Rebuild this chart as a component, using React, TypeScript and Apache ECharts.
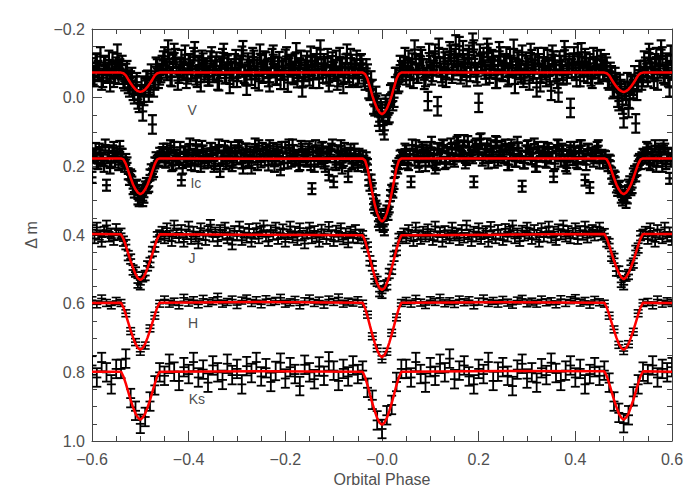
import React, { useEffect, useRef } from "react";
import * as echarts from "echarts";

// Phase sampling of the observations
const PHASE_START = -0.6;
const PHASE_START_B = -0.5975;
const STEP_FINE = 0.005;
const STEP_COARSE = 0.01;

// Observed magnitudes in milli-mag (V, Ic, J on 0.005 grid; H, Ks on 0.01 grid)
const V_MAG = [
  -88,-60,-102,-75,-50,-95,-70,-110,-82,-58,-90,-67,
  -80,-55,-72,-40,-50,-20,-35,5,-10,40,-30,-52,-35,78,-50,-85,-65,
  -95,-120,-78,-105,-60,-130,-88,-70,-112,-85,
  -55,-98,-75,-118,-65,-90,-45,-102,-80,-62,
  -108,-72,-92,-50,-84,-115,-68,-96,-40,-77,
  -100,-58,-88,-122,-70,-35,-93,-64,-110,-82,
  -48,-97,-73,-105,-60,-86,-125,-66,-90,-52,
  -79,-113,-44,-95,-70,-102,-57,-88,-30,-75,
  -108,-62,-92,-80,-118,-55,-85,-100,-68,-45,
  -94,-76,-110,-60,-87,-40,-99,-72,-115,-64,
  -83,-58,-96,
  -85,-50,-70,-20,-25,25,15,70,40,95,30,45,-15,0,-60,-45,-80,
  -92,-65,-110,-78,-55,-100,-70,-120,-85,-60,
  10,-95,-75,-128,25,-88,-62,-105,-80,-135,
  -70,-115,-92,-150,-78,-100,-60,-125,-88,-140,
  -72,15,-98,-118,-65,-130,-85,-108,-55,-95,
  -120,-75,-100,-60,-115,-88,-40,-105,-80,-125,
  -68,-95,-50,-112,-82,-30,-100,-70,-118,-60,
  -90,-20,-108,-75,-15,-95,-65,-120,-85,30,
  -102,-78,-130,-60,-92,-115,-70,-100,-55,-85,
  -110,-68,-95,
  -75,-90,-50,-65,-30,-45,10,-25,60,-5,30,-40,-25,75,-45,-80,-60,
  -90,-60,-115,-75,-100,-50,-85,-120,-65,-95,-30,-80,
];
// Second V run, sampled half a step later
const V_MAG_B = [
  -65,-100,-80,-120,-58,-92,-75,-45,-105,-70,-128,-85,
  -95,-48,-80,-30,-60,-10,-45,15,-35,-5,-50,-15,-70,-30,-90,-55,
  -72,-108,-85,-140,-62,-98,-115,-50,-90,-78,
  -125,-68,-100,-82,-135,-58,-95,-110,-73,-88,
  -62,-120,-80,-105,-48,-93,-130,-70,-100,-85,
  -58,-112,-75,-95,-138,-65,-102,-80,-118,-55,
  -90,-128,-70,-108,-84,-45,-115,-92,-64,-106,
  -80,-52,-120,-88,-98,-66,-132,-75,-110,-60,
  -95,-78,-122,-55,-100,-85,-140,-70,-92,-115,
  -62,-105,-82,-50,-118,-90,-72,-128,-58,-98,
  -85,-110,-68,-100,
  -60,-85,-25,-50,20,-5,55,30,80,20,50,-10,10,-60,-40,-95,
  -75,-118,-88,-60,-102,-140,-70,-95,-112,-52,
  -85,-130,-65,-108,-92,-145,-72,-115,-58,-98,
  -125,-80,-155,-100,-68,-138,-90,-115,-75,-160,
  -95,-62,-128,-105,-82,-145,-70,-112,-92,-55,
  -135,-78,-100,-120,-65,-95,-142,-85,-110,-72,
  -58,-105,-88,-130,-70,-98,-118,-45,-90,-80,
  -112,-65,-125,-95,-55,-108,-78,-138,-68,-100,
  -85,-120,-60,-98,-132,-75,-105,-88,-62,-118,
  -92,-70,-112,-80,
  -100,-55,-75,-25,-60,0,-40,20,-20,-45,5,-35,-65,-20,-80,-50,
  -108,-72,-130,-85,-55,-118,-95,-140,-70,-102,-60,-125,
];

const IC_MAG = [
  232,165,190,150,178,200,255,160,185,145,172,195,
  165,190,180,222,225,265,258,295,280,300,260,262,225,222,190,185,162,
  160,185,150,175,198,145,170,190,240,158,
  180,152,195,165,140,178,200,155,172,188,
  148,168,192,160,215,175,142,185,163,198,
  155,178,145,190,168,150,182,205,160,172,
  140,187,165,152,196,170,148,180,158,210,
  175,145,190,162,138,180,168,195,150,172,
  185,143,265,200,155,178,147,190,162,225,
  150,245,195,158,140,183,168,230,152,188,
  165,198,172,
  170,200,195,255,265,320,325,370,355,385,330,318,270,250,200,192,168,
  180,155,195,245,165,140,188,170,152,198,
  162,145,182,205,150,175,138,192,160,178,
  148,185,130,170,155,125,180,145,168,245,
  135,160,120,175,150,190,140,165,128,182,
  155,172,138,195,160,148,185,130,170,258,
  190,142,165,178,135,200,158,170,145,188,
  150,175,230,162,140,185,155,198,168,145,
  180,158,192,140,172,240,150,262,162,175,
  145,190,168,
  170,188,182,220,228,260,262,290,285,305,255,268,222,228,185,192,165,
  175,150,195,165,140,185,160,200,150,178,235,165,
];
// Second Ic run, sampled half a step later
const IC_MAG_B = [
  170,148,192,160,182,138,175,205,155,188,165,142,
  165,200,190,238,230,275,255,300,270,290,250,258,210,215,175,182,
  172,150,188,162,140,195,168,180,145,205,
  158,185,135,175,198,152,170,142,190,165,
  182,148,200,160,138,178,155,192,168,145,
  188,162,140,175,205,150,185,158,172,135,
  195,165,148,182,160,140,178,200,152,170,
  145,190,163,138,185,155,175,198,142,168,
  180,150,195,160,140,185,168,145,200,158,
  172,138,188,155,178,205,148,170,162,192,
  150,180,165,188,
  185,175,240,240,310,300,360,345,375,340,340,285,275,215,205,170,
  175,150,190,165,138,182,158,200,145,172,
  155,185,130,168,195,148,175,140,188,162,
  135,178,150,125,168,145,190,128,160,175,
  140,165,122,182,150,135,170,158,188,130,
  160,142,175,150,195,138,165,185,148,172,
  190,155,140,178,162,200,145,170,158,185,
  148,175,160,192,138,168,150,182,205,155,
  170,145,188,162,140,178,195,152,168,185,
  158,140,175,190,
  172,198,185,235,232,270,258,298,275,292,245,262,215,210,180,175,
  168,145,190,158,182,200,150,175,140,192,162,185,
];

const J_MAG = [
  385,410,378,400,420,390,372,405,395,415,382,400,
  395,418,428,460,470,502,508,540,545,522,518,490,480,448,435,405,400,
  390,410,380,402,418,372,395,408,385,420,
  398,375,412,390,405,425,380,400,415,388,
  370,405,392,418,385,400,378,410,395,428,
  388,402,375,415,393,408,382,420,397,380,
  410,390,372,405,418,386,400,378,412,395,
  383,420,398,375,408,390,415,380,402,425,
  395,378,410,388,405,420,384,398,412,376,
  400,418,387,405,380,413,395,422,390,408,
  385,410,398,
  402,425,435,475,490,528,535,565,570,548,545,512,500,462,445,410,405,
  395,410,385,402,418,378,400,412,390,405,
  383,398,415,375,405,392,420,388,400,410,
  378,402,395,415,385,408,372,398,418,390,
  405,380,412,395,388,420,376,400,410,385,
  398,415,382,405,390,372,410,395,418,387,
  402,378,395,412,385,400,420,380,405,392,
  375,408,390,415,383,398,372,405,388,410,
  395,380,412,388,400,375,408,393,385,402,
  390,378,400,
  396,420,425,462,468,505,505,538,545,520,515,488,482,445,438,402,398,
  390,412,380,402,420,385,398,410,378,405,392,415,
];

const H_MAG = [
  590,602,585,598,605,592,
  598,628,680,712,740,722,672,635,600,
  588,600,594,605,583,597,590,602,586,598,
  593,580,600,595,588,604,591,585,598,590,
  602,587,595,592,583,600,596,589,605,593,
  585,598,591,603,588,595,582,600,594,597,
  590,
  600,632,695,730,762,740,685,640,598,
  592,600,586,597,604,590,595,583,599,593,
  601,588,596,590,605,594,585,598,592,600,
  589,597,603,591,586,599,594,600,588,596,
  593,602,587,598,590,584,597,592,603,589,
  596,
  600,635,675,720,738,718,682,628,598,
  595,605,588,600,593,598,
];

const KS_MAG = [
  780,815,770,800,835,790,
  790,760,875,912,950,930,885,838,800,
  810,775,798,825,785,805,770,815,792,830,
  780,800,822,775,808,790,835,782,802,770,
  812,788,828,796,772,818,785,805,840,778,
  800,820,783,810,768,795,825,790,812,780,
  805,
  795,845,880,940,965,925,895,828,790,
  790,815,770,805,830,785,810,775,800,760,
  820,795,780,812,835,790,805,770,825,798,
  785,810,840,792,775,818,800,830,788,808,
  772,802,825,795,780,815,790,835,805,785,
  810,
  795,830,885,918,948,925,870,835,798,
  805,780,815,790,800,785,
];

// Typical 1-sigma errors (milli-mag)
const V_ERR = 27;
const IC_ERR = 16;
const J_ERR = 14;
const H_ERR = 10;
const KS_ERR = 27;

// Model light curves (milli-mag) on a shared phase list
const MODEL_PHASE = [
  -0.6,
  -0.54,-0.535,-0.53,-0.525,-0.52,-0.515,-0.51,-0.505,-0.5,-0.495,-0.49,-0.485,-0.48,-0.475,-0.47,-0.465,-0.46,
  -0.25,
  -0.04,-0.035,-0.03,-0.025,-0.02,-0.015,-0.01,-0.005,0,0.005,0.01,0.015,0.02,0.025,0.03,0.035,0.04,
  0.25,
  0.46,0.465,0.47,0.475,0.48,0.485,0.49,0.495,0.5,0.505,0.51,0.515,0.52,0.525,0.53,0.535,0.54,
  0.6,
];
const MODEL_V = [
  -73,
  -73,-71,-65,-53,-42,-32,-24,-19,-17,-19,-24,-32,-42,-53,-65,-71,-73,
  -73,
  -73,-69,-55,-31,-6,15,32,43,48,43,32,15,-6,-31,-55,-69,-73,
  -73,
  -73,-71,-65,-53,-42,-32,-24,-19,-16,-19,-24,-32,-42,-53,-65,-71,-73,
  -73,
];
const MODEL_IC = [
  177,
  177,180,193,213,234,253,267,277,281,277,267,253,234,213,193,180,177,
  178,
  177,183,205,241,278,311,337,354,361,354,337,311,278,241,205,183,177,
  177,
  177,180,193,213,234,253,267,277,281,277,267,253,234,213,193,180,177,
  177,
];
const MODEL_J = [
  397,
  398,411,431,454,476,496,514,526,531,526,514,496,476,454,431,411,398,
  399,
  401,417,442,469,496,520,541,555,560,555,541,520,496,469,442,417,401,
  399,
  397,410,430,453,475,494,511,523,529,523,511,494,475,453,430,410,397,
  397,
];
const MODEL_H = [
  598,
  597,611,632,655,678,699,717,729,734,729,717,699,678,655,632,611,597,
  595,
  597,613,637,664,690,714,735,750,756,750,735,714,690,664,637,613,597,
  596,
  597,611,632,655,678,699,717,729,734,729,717,699,678,655,632,611,597,
  598,
];
const MODEL_KS = [
  798,
  798,812,833,857,881,902,920,932,938,932,920,902,881,857,833,812,798,
  797,
  798,814,837,864,890,913,933,947,953,947,933,913,890,864,837,814,798,
  796,
  797,811,832,856,880,901,920,932,938,932,920,901,880,856,832,811,797,
  798,
];

// Band labels and their anchor (phase, magnitude)
const BAND_LABELS = ["V", "Ic", "J", "H", "Ks"];
const LABEL_PHASE = [-0.393, -0.385, -0.393, -0.391, -0.383];
const LABEL_MAG = [0.036, 0.248, 0.467, 0.656, 0.877];

const TEXT_COLOR = "#505050";
const AXIS_COLOR = "#444";
const FONT = "Liberation Sans";

function toPoints(mags: number[], start: number, step: number, err: number) {
  return mags.map((m, i) => [
    Math.round((start + i * step) * 10000) / 10000,
    m / 1000,
    err / 1000,
  ]);
}

function modelPoints(mags: number[]) {
  return MODEL_PHASE.map((p, i) => [p, mags[i] / 1000]);
}

function errorSeries(name: string, data: number[][], lw: number) {
  return {
    type: "custom",
    name,
    xAxisIndex: 0,
    yAxisIndex: 0,
    data,
    clip: true,
    silent: true,
    z: 2,
    encode: { x: 0, y: 1 },
    renderItem: (_params: any, api: any) => {
      const x = api.value(0);
      const y = api.value(1);
      const e = api.value(2);
      const top = api.coord([x, y - e]);
      const mid = api.coord([x, y]);
      const bot = api.coord([x, y + e]);
      const hw = 4.5;
      const st = { stroke: "#000", lineWidth: lw };
      return {
        type: "group",
        children: [
          { type: "line", shape: { x1: top[0], y1: top[1], x2: bot[0], y2: bot[1] }, style: st },
          { type: "line", shape: { x1: top[0] - hw, y1: top[1], x2: top[0] + hw, y2: top[1] }, style: st },
          { type: "line", shape: { x1: bot[0] - hw, y1: bot[1], x2: bot[0] + hw, y2: bot[1] }, style: st },
          { type: "line", shape: { x1: mid[0] - hw, y1: mid[1], x2: mid[0] + hw, y2: mid[1] }, style: st },
        ],
      };
    },
  };
}

function modelSeries(name: string, mags: number[]) {
  return {
    type: "line",
    name,
    xAxisIndex: 0,
    yAxisIndex: 0,
    data: modelPoints(mags),
    showSymbol: false,
    symbol: "none",
    smooth: false,
    silent: true,
    z: 5,
    lineStyle: { color: "#ff0000", width: 2.5 },
  };
}

const xFmt = (v: number) => {
  if (Math.abs(v) < 1e-9) return "\u22120.0";
  return (v < 0 ? "\u2212" : "") + Math.abs(v).toFixed(1);
};
const yFmt = (v: number) => (v < -1e-9 ? "\u2212" : "") + Math.abs(v).toFixed(1);

function axisCommon() {
  return {
    axisLine: { show: true, onZero: false, lineStyle: { color: AXIS_COLOR, width: 1 } },
    axisTick: { show: true, inside: true, length: 10, lineStyle: { color: AXIS_COLOR } },
    minorTick: { show: true, splitNumber: 4, length: 5, lineStyle: { color: AXIS_COLOR } },
    splitLine: { show: false },
    minorSplitLine: { show: false },
  };
}

export default function App() {
  const ref = useRef<HTMLDivElement>(null);
  useEffect(() => {
    document.body.style.margin = "0";
    if (!ref.current) return;
    const chart = echarts.init(ref.current, undefined, { renderer: "svg" });
    const labelData = BAND_LABELS.map((_, i) => [LABEL_PHASE[i], LABEL_MAG[i]]);
    chart.setOption({
      animation: false,
      backgroundColor: "#fff",
      grid: { left: 92, right: 28, top: 29, bottom: 59 },
      xAxis: [
        {
          type: "value",
          min: -0.6,
          max: 0.6,
          interval: 0.2,
          position: "bottom",
          ...axisCommon(),
          axisLabel: { show: true, formatter: xFmt, color: TEXT_COLOR, fontSize: 16, fontFamily: FONT, margin: 10 },
          name: "Orbital Phase",
          nameLocation: "middle",
          nameGap: 30,
          nameTextStyle: { color: TEXT_COLOR, fontSize: 16, fontFamily: FONT },
        },
        {
          type: "value",
          min: -0.6,
          max: 0.6,
          interval: 0.2,
          position: "top",
          ...axisCommon(),
          axisLabel: { show: false },
        },
      ],
      yAxis: [
        {
          type: "value",
          inverse: true,
          min: -0.2,
          max: 1.0,
          interval: 0.2,
          position: "left",
          ...axisCommon(),
          axisLabel: { show: true, formatter: yFmt, color: TEXT_COLOR, fontSize: 16, fontFamily: FONT, margin: 7 },
          name: "\u0394 m",
          nameLocation: "middle",
          nameRotate: 90,
          nameGap: 53,
          nameTextStyle: { color: TEXT_COLOR, fontSize: 16, fontFamily: FONT },
        },
        {
          type: "value",
          inverse: true,
          min: -0.2,
          max: 1.0,
          interval: 0.2,
          position: "right",
          ...axisCommon(),
          axisLabel: { show: false },
        },
      ],
      series: [
        errorSeries("V data", toPoints(V_MAG, PHASE_START, STEP_FINE, V_ERR), 2.2),
        errorSeries("V data 2", toPoints(V_MAG_B, PHASE_START_B, STEP_FINE, V_ERR), 2.2),
        errorSeries("Ic data", toPoints(IC_MAG, PHASE_START, STEP_FINE, IC_ERR), 2.2),
        errorSeries("Ic data 2", toPoints(IC_MAG_B, PHASE_START_B, STEP_FINE, IC_ERR), 2.2),
        errorSeries("J data", toPoints(J_MAG, PHASE_START, STEP_FINE, J_ERR), 1.8),
        errorSeries("H data", toPoints(H_MAG, PHASE_START, STEP_COARSE, H_ERR), 1.6),
        errorSeries("Ks data", toPoints(KS_MAG, PHASE_START, STEP_COARSE, KS_ERR), 1.8),
        modelSeries("V model", MODEL_V),
        modelSeries("Ic model", MODEL_IC),
        modelSeries("J model", MODEL_J),
        modelSeries("H model", MODEL_H),
        modelSeries("Ks model", MODEL_KS),
        {
          type: "custom",
          name: "labels",
          xAxisIndex: 0,
          yAxisIndex: 0,
          data: labelData,
          silent: true,
          z: 6,
          renderItem: (params: any, api: any) => {
            const c = api.coord([api.value(0), api.value(1)]);
            return {
              type: "text",
              x: c[0],
              y: c[1],
              style: {
                text: BAND_LABELS[params.dataIndex],
                fill: TEXT_COLOR,
                fontSize: 14,
                fontFamily: FONT,
                align: "center",
                verticalAlign: "middle",
              },
            };
          },
        },
      ],
    });
    return () => chart.dispose();
  }, []);
  return <div ref={ref} style={{ width: 700, height: 500 }} />;
}
